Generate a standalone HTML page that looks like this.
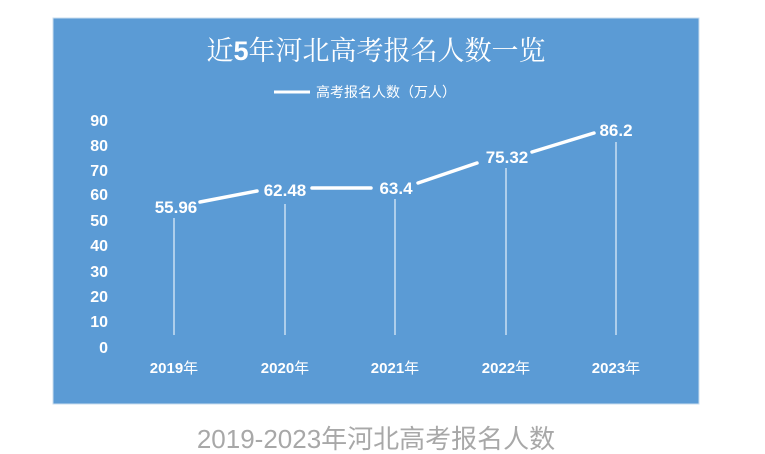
<!DOCTYPE html>
<html><head><meta charset="utf-8"><style>
body{margin:0;width:765px;height:454px;background:#fff;overflow:hidden}
svg{display:block}
</style></head><body>
<svg width="765" height="454" xmlns="http://www.w3.org/2000/svg" font-family="Liberation Sans, Noto Sans CJK SC, sans-serif">
<rect x="53" y="18" width="646" height="386" fill="#5b9bd5" stroke="#c9dcee" stroke-width="1"/>
<text x="376" y="60" text-anchor="middle" font-size="27" fill="#fff" font-family="Noto Serif CJK SC, Liberation Serif, serif">近<tspan font-weight="bold" font-family="Liberation Sans, sans-serif">5</tspan>年河北高考报名人数一览</text>
<line x1="274" y1="92" x2="310" y2="92" stroke="#fff" stroke-width="3"/>
<text x="316" y="97" font-size="14" fill="#fff">高考报名人数（万人）</text>
<g font-size="16" font-weight="bold" fill="#fff" text-anchor="end" font-family="Liberation Sans Narrow, Liberation Sans, sans-serif">
<text x="108" y="126">90</text><text x="108" y="151">80</text><text x="108" y="176">70</text><text x="108" y="200">60</text><text x="108" y="226">50</text><text x="108" y="251">40</text><text x="108" y="277">30</text><text x="108" y="302">20</text><text x="108" y="327">10</text><text x="108" y="353">0</text>
</g>
<g stroke="#e6effa" stroke-width="1.2">
<line x1="174" y1="218" x2="174" y2="335"/><line x1="285" y1="204" x2="285" y2="335"/><line x1="395" y1="199" x2="395" y2="335"/><line x1="506" y1="168" x2="506" y2="335"/><line x1="616" y1="142" x2="616" y2="335"/>
</g>
<g stroke="#fff" stroke-width="3.5" stroke-linecap="round">
<line x1="200" y1="202" x2="257" y2="191"/><line x1="312" y1="188" x2="371" y2="188"/><line x1="418" y1="183" x2="477" y2="163"/><line x1="532" y1="152" x2="594" y2="133"/>
</g>
<g font-size="17" font-weight="bold" fill="#fff" text-anchor="middle" font-family="Liberation Sans Narrow, Liberation Sans, sans-serif">
<text x="176" y="213">55.96</text><text x="285" y="196">62.48</text><text x="396" y="194">63.4</text><text x="507" y="163">75.32</text><text x="616" y="136">86.2</text>
</g>
<g font-size="15" font-weight="bold" fill="#fff" text-anchor="middle" font-family="Liberation Sans Narrow, Liberation Sans, sans-serif">
<text x="174" y="373">2019<tspan font-weight="normal">年</tspan></text>
<text x="285" y="373">2020<tspan font-weight="normal">年</tspan></text>
<text x="395" y="373">2021<tspan font-weight="normal">年</tspan></text>
<text x="506" y="373">2022<tspan font-weight="normal">年</tspan></text>
<text x="616" y="373">2023<tspan font-weight="normal">年</tspan></text>
</g>
<text x="376" y="448" text-anchor="middle" font-size="26" fill="#a8a8a8">2019-2023年河北高考报名人数</text>
</svg>
</body></html>
